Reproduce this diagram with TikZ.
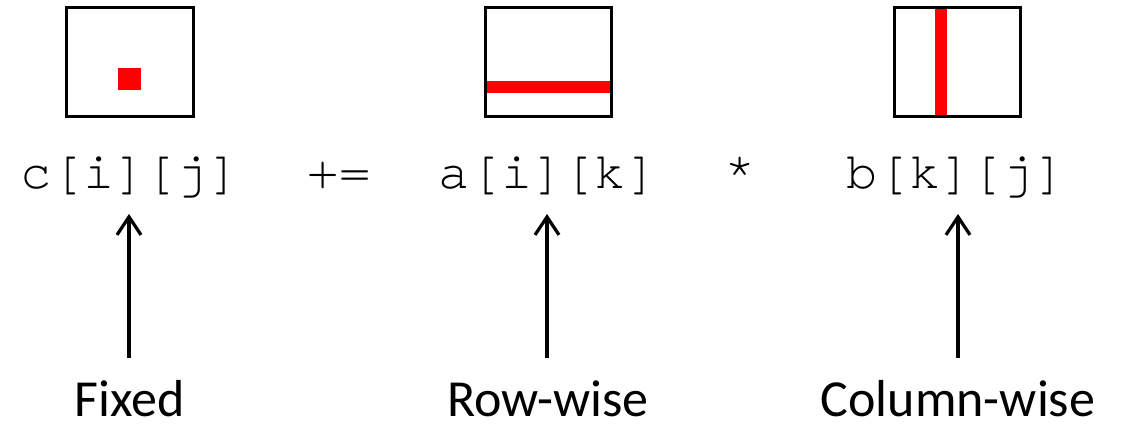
\documentclass[tikz,border=0pt]{standalone}
\usepackage{fontspec}
\setmainfont{Carlito}
\newfontfamily\codefont{TeX Gyre Cursor}
\usetikzlibrary{arrows.meta}
\tikzset{
  matbox/.style={draw=black, line width=3pt, fill=none},
  hot/.style={fill=red, draw=none},
  code/.style={anchor=base, inner sep=0pt, font=\codefont\fontsize{52}{62}\selectfont},
  lbl/.style={anchor=base, inner sep=0pt, text depth=0pt, font=\fontsize{52}{62}\selectfont},
  arr/.style={line width=3.2pt, -{Straight Barb[length=18pt,width=24pt,line width=3.2pt]}}
}
\begin{document}
\begin{tikzpicture}[x=1pt,y=-1pt]
\useasboundingbox (0,0) rectangle (1125,427);
% matrices
\fill[hot] (118,68) rectangle (141,90);
\draw[matbox] (66,8) rectangle (193,117);
\fill[hot] (486,81) rectangle (610,93);
\draw[matbox] (485,8) rectangle (611,117);
\fill[hot] (935,9) rectangle (947,116);
\draw[matbox] (894,8) rectangle (1020,117);
% code
\node[code] (c) at (130,189) {c[i][j]};
\node[code] (pe) at (339,189) {+=};
\node[code] (a) at (548,189) {a[i][k]};
\node[code] (st) at (740,189) {*};
\node[code] (b) at (956,189) {b[k][j]};
% labels
\node[lbl] (fixed) at (130,417) {Fixed};
\node[lbl] (row) at (548,417) {Row-wise};
\node[lbl] (col) at (958,417) {Column-wise};
% arrow ends
\coordinate (t1) at (129,214); \coordinate (s1) at (129,358);
\coordinate (t2) at (547,214); \coordinate (s2) at (547,358);
\coordinate (t3) at (958,214); \coordinate (s3) at (958,358);
\draw[arr] (s1) -- (t1);
\draw[arr] (s2) -- (t2);
\draw[arr] (s3) -- (t3);
\end{tikzpicture}
\end{document}
